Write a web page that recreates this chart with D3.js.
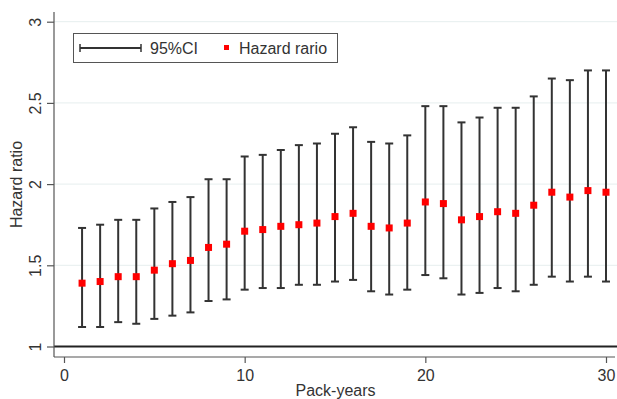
<!DOCTYPE html>
<html>
<head>
  <meta charset="UTF-8">
  <style>
    body { margin: 0; background: #fff; }
    svg { display: block; font-family: "Liberation Sans", Arial, sans-serif; }
  </style>
</head>
<body>
<svg></svg>
<script src="https://d3js.org/d3.v7.min.js"></script>
<script>

let width = 617, height = 399;

// pack-years 1..30
let packYears = d3.range(1, 31);
let hazard = [1.39, 1.40, 1.43, 1.43, 1.47, 1.51, 1.53, 1.61, 1.63, 1.71,
              1.72, 1.74, 1.75, 1.76, 1.80, 1.82, 1.74, 1.73, 1.76, 1.89,
              1.88, 1.78, 1.80, 1.83, 1.82, 1.87, 1.95, 1.92, 1.96, 1.95];
let ciLow = [1.12, 1.12, 1.15, 1.14, 1.17, 1.19, 1.21, 1.28, 1.29, 1.35,
             1.36, 1.36, 1.38, 1.38, 1.40, 1.41, 1.34, 1.32, 1.35, 1.44,
             1.42, 1.32, 1.33, 1.36, 1.34, 1.38, 1.43, 1.40, 1.43, 1.40];
let ciHigh = [1.73, 1.75, 1.78, 1.78, 1.85, 1.89, 1.92, 2.03, 2.03, 2.17,
              2.18, 2.21, 2.24, 2.25, 2.31, 2.35, 2.26, 2.25, 2.30, 2.48,
              2.48, 2.38, 2.41, 2.47, 2.47, 2.54, 2.65, 2.64, 2.70, 2.70];
let xTicks = [0, 10, 20, 30];
let yTicks = [1, 1.5, 2, 2.5, 3];

let svg = d3.select("svg")
    .attr("width", width)
    .attr("height", height);

let plot = {left: 54, right: 617, top: 12, bottom: 357};

let x = d3.scaleLinear().domain([0, 30]).range([64, 606]);
let y = d3.scaleLinear().domain([1, 3]).range([346.5, 21.7]);

// gridlines
svg.append("g")
    .selectAll("line")
    .data(yTicks.slice(1))
    .enter()
    .append("line")
    .attr("x1", plot.left)
    .attr("x2", plot.right)
    .attr("y1", d => y(d))
    .attr("y2", d => y(d))
    .style("stroke", "#e6eeee")
    .style("stroke-width", 1);

// reference line at 1
svg.append("line")
    .attr("x1", plot.left)
    .attr("x2", plot.right)
    .attr("y1", y(1))
    .attr("y2", y(1))
    .style("stroke", "#222")
    .style("stroke-width", 2);

// axes
let yAxis = d3.axisLeft(y).tickValues(yTicks).tickSize(7).tickFormat(d3.format("~g"));
let xAxis = d3.axisBottom(x).tickValues(xTicks).tickSize(6).tickFormat(d3.format("d"));

let gy = svg.append("g")
    .attr("transform", "translate(" + plot.left + ",0)")
    .call(yAxis);
gy.select(".domain").attr("d", "M0," + plot.top + "V" + plot.bottom);
gy.selectAll("text")
    .attr("x", 0).attr("y", 0).attr("dy", null)
    .attr("text-anchor", "middle")
    .attr("dominant-baseline", "central")
    .attr("transform", "translate(-19,0) rotate(-90)");

let gx = svg.append("g")
    .attr("transform", "translate(0," + plot.bottom + ")")
    .call(xAxis);
gx.select(".domain").attr("d", "M" + plot.left + ",0H" + (plot.right - 2));
gx.selectAll("text").attr("y", 13);

svg.selectAll(".tick text")
    .style("font-size", "16px")
    .style("fill", "#333")
    .style("font-family", "Liberation Sans, Arial, sans-serif");
svg.selectAll(".tick line, .domain")
    .style("stroke", "#555")
    .style("stroke-width", 1.2);

// axis titles
svg.append("text")
    .attr("transform", "translate(22," + ((plot.top + plot.bottom) / 2) + ") rotate(-90)")
    .attr("text-anchor", "middle")
    .style("font-size", "16px")
    .style("fill", "#333")
    .text("Hazard ratio");

svg.append("text")
    .attr("x", (plot.left + plot.right) / 2)
    .attr("y", 396)
    .attr("text-anchor", "middle")
    .style("font-size", "16px")
    .style("fill", "#333")
    .text("Pack-years");

// error bars
let bars = svg.append("g")
    .selectAll("g")
    .data(packYears)
    .enter()
    .append("g")
    .style("stroke", "#333")
    .style("stroke-width", 2);

bars.append("line")
    .attr("x1", d => x(d)).attr("x2", d => x(d))
    .attr("y1", (d, i) => y(ciLow[i]))
    .attr("y2", (d, i) => y(ciHigh[i]));
bars.append("line")
    .attr("x1", d => x(d) - 4).attr("x2", d => x(d) + 4)
    .attr("y1", (d, i) => y(ciHigh[i])).attr("y2", (d, i) => y(ciHigh[i]));
bars.append("line")
    .attr("x1", d => x(d) - 4).attr("x2", d => x(d) + 4)
    .attr("y1", (d, i) => y(ciLow[i])).attr("y2", (d, i) => y(ciLow[i]));

// points
svg.append("g")
    .selectAll("rect")
    .data(packYears)
    .enter()
    .append("rect")
    .attr("x", d => x(d) - 3.5)
    .attr("y", (d, i) => y(hazard[i]) - 3.5)
    .attr("width", 7)
    .attr("height", 7)
    .style("fill", "#f00");

// legend
let legend = svg.append("g");
legend.append("rect")
    .attr("x", 73.5).attr("y", 33.5)
    .attr("width", 264).attr("height", 29)
    .style("fill", "#fff")
    .style("stroke", "#555")
    .style("stroke-width", 1);
legend.append("line")
    .attr("x1", 80).attr("x2", 141).attr("y1", 48).attr("y2", 48)
    .style("stroke", "#333").style("stroke-width", 2);
legend.append("line")
    .attr("x1", 80).attr("x2", 80).attr("y1", 44).attr("y2", 52)
    .style("stroke", "#333").style("stroke-width", 1.5);
legend.append("line")
    .attr("x1", 141).attr("x2", 141).attr("y1", 44).attr("y2", 52)
    .style("stroke", "#333").style("stroke-width", 1.5);
legend.append("text")
    .attr("x", 150).attr("y", 54)
    .style("font-size", "16px").style("fill", "#333")
    .text("95%CI");
legend.append("rect")
    .attr("x", 224).attr("y", 45).attr("width", 5).attr("height", 5)
    .style("fill", "#f00");
legend.append("text")
    .attr("x", 239).attr("y", 54)
    .style("font-size", "16px").style("fill", "#333")
    .text("Hazard rario");

</script>
</body>
</html>
